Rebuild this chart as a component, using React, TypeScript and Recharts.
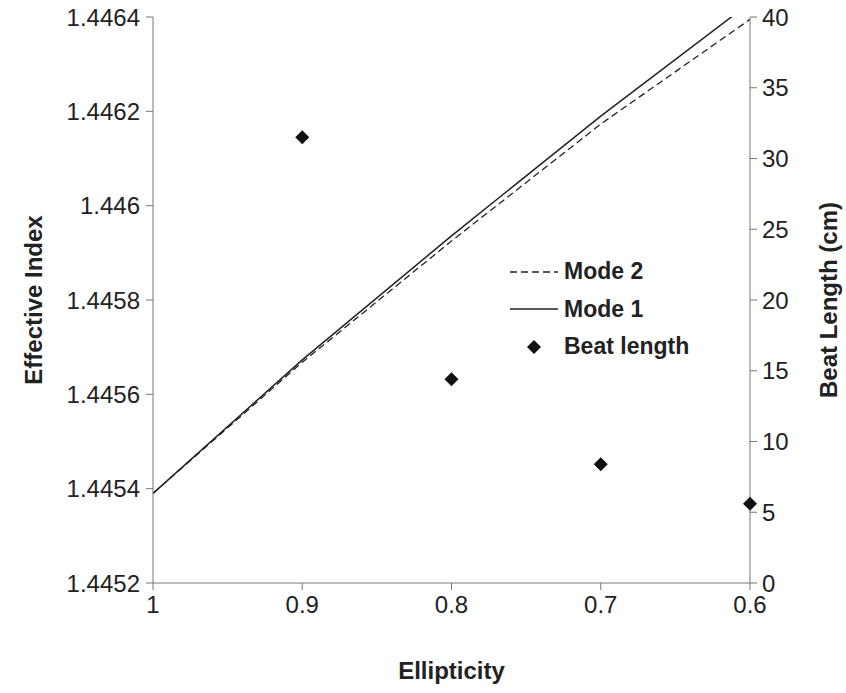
import React from "react";
import { ComposedChart, Line, Scatter, XAxis, YAxis, Label } from "recharts";

const ellipticity = [1, 0.9, 0.8, 0.7, 0.6];
const mode1 = [1.44539, 1.445673, 1.445936, 1.44619, 1.44643];
const mode2 = [1.44539, 1.445668, 1.445925, 1.446173, 1.446395];
const beatLength = [null, 31.5, 14.4, 8.4, 5.6];

const xTicks = [1, 0.9, 0.8, 0.7, 0.6];
const leftTicks = [1.4452, 1.4454, 1.4456, 1.4458, 1.446, 1.4462, 1.4464];
const rightTicks = [0, 5, 10, 15, 20, 25, 30, 35, 40];

const data = ellipticity.map((e, i) => ({
  e,
  mode1: mode1[i],
  mode2: mode2[i],
  beat: beatLength[i],
}));

const FONT = "'Liberation Sans', Arial, sans-serif";
const AXIS = "#777";
const INK = "#222";

const tickStyle = { fontFamily: FONT, fontSize: 24, fill: INK };
const titleStyle = { fontFamily: FONT, fontSize: 24, fontWeight: 700, fill: INK };

const Diamond = (props: any) => {
  const { cx, cy } = props;
  if (cx == null || cy == null || props.payload?.beat == null) return null;
  const r = 7;
  return (
    <polygon
      points={`${cx},${cy - r} ${cx + r},${cy} ${cx},${cy + r} ${cx - r},${cy}`}
      fill="#111"
    />
  );
};

function LegendBox() {
  const row = { display: "flex", alignItems: "center", height: 37.5 };
  const text = { fontFamily: FONT, fontSize: 23, fontWeight: 700, color: INK, marginLeft: 6 };
  return (
    <div style={{ position: "absolute", left: 510, top: 253 }}>
      <div style={row}>
        <svg width={48} height={10}>
          <line x1={0} y1={5} x2={48} y2={5} stroke={INK} strokeWidth={1.3} strokeDasharray="7 4" />
        </svg>
        <span style={text}>Mode 2</span>
      </div>
      <div style={row}>
        <svg width={48} height={10}>
          <line x1={0} y1={5} x2={48} y2={5} stroke={INK} strokeWidth={1.5} />
        </svg>
        <span style={text}>Mode 1</span>
      </div>
      <div style={row}>
        <svg width={48} height={16}>
          <polygon points="24,1 31,8 24,15 17,8" fill="#111" />
        </svg>
        <span style={text}>Beat length</span>
      </div>
    </div>
  );
}

export default function App() {
  return (
    <div style={{ position: "absolute", left: 0, top: 0, width: 846, height: 693, background: "#fff" }}>
      <ComposedChart
        width={846}
        height={693}
        data={data}
        margin={{ top: 17, right: 0, bottom: 0, left: 0 }}
      >
        <XAxis
          dataKey="e"
          type="number"
          domain={[0.6, 1]}
          reversed
          ticks={xTicks}
          interval={0}
          height={110}
          stroke={AXIS}
          tickSize={7}
          tickMargin={6}
          tick={tickStyle}
        >
          <Label value="Ellipticity" position="insideBottom" offset={14} style={titleStyle} />
        </XAxis>
        <YAxis
          yAxisId="left"
          type="number"
          domain={[1.4452, 1.4464]}
          ticks={leftTicks}
          interval={0}
          allowDataOverflow
          width={153}
          stroke={AXIS}
          tickSize={7}
          tickMargin={6}
          tick={tickStyle}
          tickFormatter={(v: number) => String(Number(v.toFixed(4)))}
        >
          <Label
            value="Effective Index"
            angle={-90}
            position="insideLeft"
            offset={33}
            style={{ ...titleStyle, textAnchor: "middle" }}
          />
        </YAxis>
        <YAxis
          yAxisId="right"
          orientation="right"
          type="number"
          domain={[0, 40]}
          ticks={rightTicks}
          interval={0}
          width={96}
          stroke={AXIS}
          tickSize={7}
          tickMargin={5}
          tick={tickStyle}
        >
          <Label
            value="Beat Length (cm)"
            angle={-90}
            position="insideRight"
            offset={18}
            style={{ ...titleStyle, textAnchor: "middle" }}
          />
        </YAxis>
        <Line
          yAxisId="left"
          dataKey="mode2"
          type="linear"
          stroke={INK}
          strokeWidth={1.3}
          strokeDasharray="7 4"
          dot={false}
          isAnimationActive={false}
        />
        <Line
          yAxisId="left"
          dataKey="mode1"
          type="linear"
          stroke={INK}
          strokeWidth={1.5}
          dot={false}
          isAnimationActive={false}
        />
        <Scatter yAxisId="right" dataKey="beat" shape={<Diamond />} isAnimationActive={false} />
      </ComposedChart>
      <LegendBox />
    </div>
  );
}
